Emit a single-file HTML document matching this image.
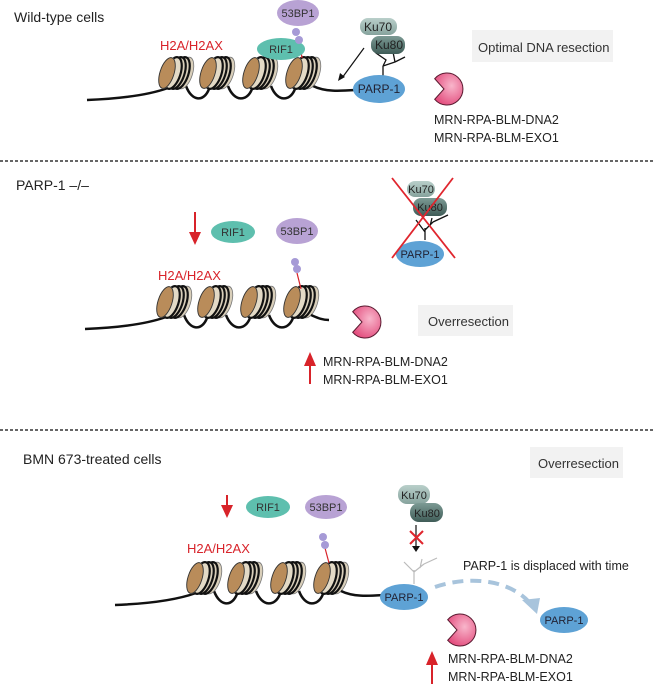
<!DOCTYPE html>
<html><head><meta charset="utf-8"><style>
html,body{margin:0;padding:0;background:#fff;}
svg{display:block;font-family:"Liberation Sans",Arial,sans-serif;}
</style></head><body>
<svg width="655" height="684" viewBox="0 0 655 684" xmlns="http://www.w3.org/2000/svg">
<defs>
<radialGradient id="pk" cx="0.6" cy="0.4" r="0.7"><stop offset="0" stop-color="#f8b6cb"/><stop offset="1" stop-color="#e2487a"/></radialGradient>
<linearGradient id="ku7" x1="0" y1="0" x2="0" y2="1"><stop offset="0" stop-color="#b9cfca"/><stop offset="1" stop-color="#86a39d"/></linearGradient>
<linearGradient id="ku8" x1="0" y1="0" x2="0" y2="1"><stop offset="0" stop-color="#7c9a94"/><stop offset="1" stop-color="#3f5c57"/></linearGradient>
<g id="nuc">
<ellipse cx="9" cy="0" rx="7.5" ry="16.5" transform="rotate(18 9 0)" fill="#d9cfba" stroke="#777" stroke-width="0.8"/>
<ellipse cx="5" cy="0" rx="7.5" ry="16.5" transform="rotate(18 5 0)" fill="#d9cfba" stroke="#111" stroke-width="2.2"/>
<ellipse cx="1" cy="0" rx="7.5" ry="16.5" transform="rotate(18 1 0)" fill="#d9cfba" stroke="#111" stroke-width="2.2"/>
<ellipse cx="-3" cy="0" rx="7.5" ry="16.5" transform="rotate(18 -3 0)" fill="#e3dac6" stroke="#111" stroke-width="2.2"/>
<ellipse cx="-9" cy="0" rx="7.5" ry="16.5" transform="rotate(18 -9 0)" fill="#e6ddcb" stroke="none"/>
<ellipse cx="-9" cy="0" rx="7" ry="16" transform="rotate(18 -9 0)" fill="#b98c5a" stroke="#333" stroke-width="0.9"/>
</g>
<g id="chain">
<path d="M87 100 Q140 98 168 88 M186 86 C192 102 204 102 209 89 M228 86 C234 102 247 102 252 89 M271 86 C277 102 290 102 295 89" fill="none" stroke="#111" stroke-width="2.5"/>
<use href="#nuc" x="176" y="73"/>
<use href="#nuc" x="217" y="73"/>
<use href="#nuc" x="260" y="73"/>
<use href="#nuc" x="303" y="73"/>
</g>
<g id="pac"><path d="M-12.3 -10.3 A16 16 0 1 1 -12.3 10.3 L-3 0 Z" fill="url(#pk)" stroke="#5a1a30" stroke-width="1"/></g>
</defs>

<!-- Section 1 -->
<text x="14" y="22" font-size="14" fill="#222">Wild-type cells</text>
<path d="M313 86 C325 92 340 91 356 90" fill="none" stroke="#111" stroke-width="2.5"/>
<use href="#chain"/>
<text x="160" y="50" font-size="13" fill="#d8232a">H2A/H2AX</text>
<line x1="300" y1="44" x2="302" y2="58" stroke="#d8232a" stroke-width="1.2"/>
<ellipse cx="281" cy="49" rx="24" ry="11" fill="#5ebfae"/>
<text x="281" y="53" font-size="11" fill="#333" text-anchor="middle">RIF1</text>
<circle cx="296" cy="32" r="4" fill="#a69ad6"/><circle cx="299" cy="40" r="4" fill="#a69ad6"/>
<ellipse cx="298" cy="13" rx="21" ry="13" fill="#b8a2d4"/>
<text x="298" y="17" font-size="11" fill="#333" text-anchor="middle">53BP1</text>
<path d="M383 76 L383 66 M383 66 L395 62 M395 62 L393 52 M395 62 L405 57 M383 66 L386 60 L376 53 L372 48" fill="none" stroke="#111" stroke-width="1.3"/>
<rect x="360" y="18" width="37" height="17" rx="8" fill="url(#ku7)"/>
<text x="378" y="31" font-size="12" fill="#222" text-anchor="middle">Ku70</text>
<rect x="371" y="36" width="34" height="18" rx="8" fill="url(#ku8)"/>
<text x="389" y="49" font-size="12" fill="#222" text-anchor="middle">Ku80</text>
<line x1="364" y1="48" x2="342" y2="78" stroke="#111" stroke-width="1.2"/>
<path d="M338 81 L340 73 L345 77 Z" fill="#111"/>
<ellipse cx="379" cy="89" rx="26" ry="14" fill="#5ea2d5"/>
<text x="379" y="93" font-size="12" fill="#223" text-anchor="middle">PARP-1</text>
<use href="#pac" x="447" y="89"/>
<rect x="472" y="30" width="141" height="32" fill="#f2f2f2"/>
<text x="478" y="52" font-size="13" fill="#333">Optimal DNA resection</text>
<text x="434" y="124" font-size="12.5" fill="#222">MRN-RPA-BLM-DNA2</text>
<text x="434" y="142" font-size="12.5" fill="#222">MRN-RPA-BLM-EXO1</text>

<line x1="0" y1="161" x2="655" y2="161" stroke="#333" stroke-width="1.5" stroke-dasharray="3 2"/>

<!-- Section 2 -->
<text x="16" y="190" font-size="14" fill="#222">PARP-1 –/–</text>
<g transform="translate(-2 229)"><use href="#chain"/></g>
<path d="M311 315 C318 318 322 320 329 320" fill="none" stroke="#111" stroke-width="2.5"/>
<text x="158" y="280" font-size="13" fill="#d8232a">H2A/H2AX</text>
<line x1="297" y1="273" x2="301" y2="289" stroke="#d8232a" stroke-width="1.2"/>
<circle cx="295" cy="262" r="4" fill="#a69ad6"/><circle cx="297" cy="269" r="4" fill="#a69ad6"/>
<line x1="195" y1="212" x2="195" y2="236" stroke="#d8232a" stroke-width="2"/>
<path d="M189 232 L201 232 L195 245 Z" fill="#d8232a"/>
<ellipse cx="233" cy="232" rx="22" ry="11" fill="#5ebfae"/>
<text x="233" y="236" font-size="11" fill="#333" text-anchor="middle">RIF1</text>
<ellipse cx="297" cy="231" rx="21" ry="13" fill="#b8a2d4"/>
<text x="297" y="235" font-size="11" fill="#333" text-anchor="middle">53BP1</text>
<path d="M425 240 L425 228 M425 230 L433 222 M430 226 L432 218 M425 232 L416 220 M433 222 L448 215" fill="none" stroke="#111" stroke-width="1.3"/>
<rect x="407" y="181" width="28" height="16" rx="8" fill="url(#ku7)"/>
<text x="421" y="193" font-size="11" fill="#222" text-anchor="middle">Ku70</text>
<rect x="413" y="198" width="34" height="18" rx="8" fill="url(#ku8)"/>
<text x="430" y="211" font-size="11" fill="#222" text-anchor="middle">Ku80</text>
<ellipse cx="420" cy="254" rx="24" ry="13" fill="#5ea2d5"/>
<text x="420" y="258" font-size="11" fill="#223" text-anchor="middle">PARP-1</text>
<line x1="392" y1="178" x2="455" y2="258" stroke="#e0262e" stroke-width="1.8"/>
<line x1="453" y1="178" x2="392" y2="258" stroke="#e0262e" stroke-width="1.8"/>
<use href="#pac" x="365" y="322"/>
<rect x="418" y="305" width="95" height="31" fill="#f2f2f2"/>
<text x="428" y="326" font-size="13" fill="#333">Overresection</text>
<line x1="310" y1="362" x2="310" y2="384" stroke="#d8232a" stroke-width="2"/>
<path d="M304 366 L316 366 L310 352 Z" fill="#d8232a"/>
<text x="323" y="366" font-size="12.5" fill="#222">MRN-RPA-BLM-DNA2</text>
<text x="323" y="384" font-size="12.5" fill="#222">MRN-RPA-BLM-EXO1</text>

<line x1="0" y1="430" x2="655" y2="430" stroke="#333" stroke-width="1.5" stroke-dasharray="3 2"/>

<!-- Section 3 -->
<text x="23" y="464" font-size="14" fill="#222">BMN 673-treated cells</text>
<rect x="530" y="447" width="93" height="31" fill="#f2f2f2"/>
<text x="538" y="468" font-size="13" fill="#333">Overresection</text>
<g transform="translate(28 505)"><use href="#chain"/></g>
<path d="M341 591 C353 597 368 596 384 595" fill="none" stroke="#111" stroke-width="2.5"/>
<text x="187" y="553" font-size="13" fill="#d8232a">H2A/H2AX</text>
<line x1="325" y1="548" x2="329" y2="563" stroke="#d8232a" stroke-width="1.2"/>
<circle cx="323" cy="537" r="4" fill="#a69ad6"/><circle cx="325" cy="545" r="4" fill="#a69ad6"/>
<line x1="227" y1="495" x2="227" y2="508" stroke="#d8232a" stroke-width="2"/>
<path d="M221 505 L233 505 L227 518 Z" fill="#d8232a"/>
<ellipse cx="268" cy="507" rx="22" ry="11" fill="#5ebfae"/>
<text x="268" y="511" font-size="11" fill="#333" text-anchor="middle">RIF1</text>
<ellipse cx="326" cy="507" rx="21" ry="12" fill="#b8a2d4"/>
<text x="326" y="511" font-size="11" fill="#333" text-anchor="middle">53BP1</text>
<rect x="398" y="485" width="32" height="19" rx="9" fill="url(#ku7)"/>
<text x="414" y="499" font-size="11" fill="#222" text-anchor="middle">Ku70</text>
<rect x="410" y="503" width="33" height="19" rx="9" fill="url(#ku8)"/>
<text x="427" y="517" font-size="11" fill="#222" text-anchor="middle">Ku80</text>
<line x1="416" y1="525" x2="416" y2="548" stroke="#111" stroke-width="1.2"/>
<path d="M412 546 L420 546 L416 552 Z" fill="#111"/>
<line x1="410" y1="531" x2="423" y2="544" stroke="#e0262e" stroke-width="2"/>
<line x1="423" y1="531" x2="410" y2="544" stroke="#e0262e" stroke-width="2"/>
<path d="M414 584 L414 570 M414 572 L424 564 M420 568 L422 559 M414 572 L404 562 M424 564 L437 558" fill="none" stroke="#bbb" stroke-width="1.2"/>
<ellipse cx="404" cy="597" rx="24" ry="13" fill="#5ea2d5"/>
<text x="404" y="601" font-size="11" fill="#223" text-anchor="middle">PARP-1</text>
<path d="M435 587 C470 575 510 580 530 603" fill="none" stroke="#a8c4dc" stroke-width="4" stroke-dasharray="11 7"/>
<path d="M522 600 L540 598 L537 614 Z" fill="#a8c4dc"/>
<text x="463" y="570" font-size="12.5" fill="#222">PARP-1 is displaced with time</text>
<ellipse cx="564" cy="620" rx="24" ry="13" fill="#5ea2d5"/>
<text x="564" y="624" font-size="11" fill="#223" text-anchor="middle">PARP-1</text>
<use href="#pac" x="460" y="630"/>
<line x1="432" y1="662" x2="432" y2="684" stroke="#d8232a" stroke-width="2"/>
<path d="M426 665 L438 665 L432 651 Z" fill="#d8232a"/>
<text x="448" y="663" font-size="12.5" fill="#222">MRN-RPA-BLM-DNA2</text>
<text x="448" y="681" font-size="12.5" fill="#222">MRN-RPA-BLM-EXO1</text>
</svg>
</body></html>
